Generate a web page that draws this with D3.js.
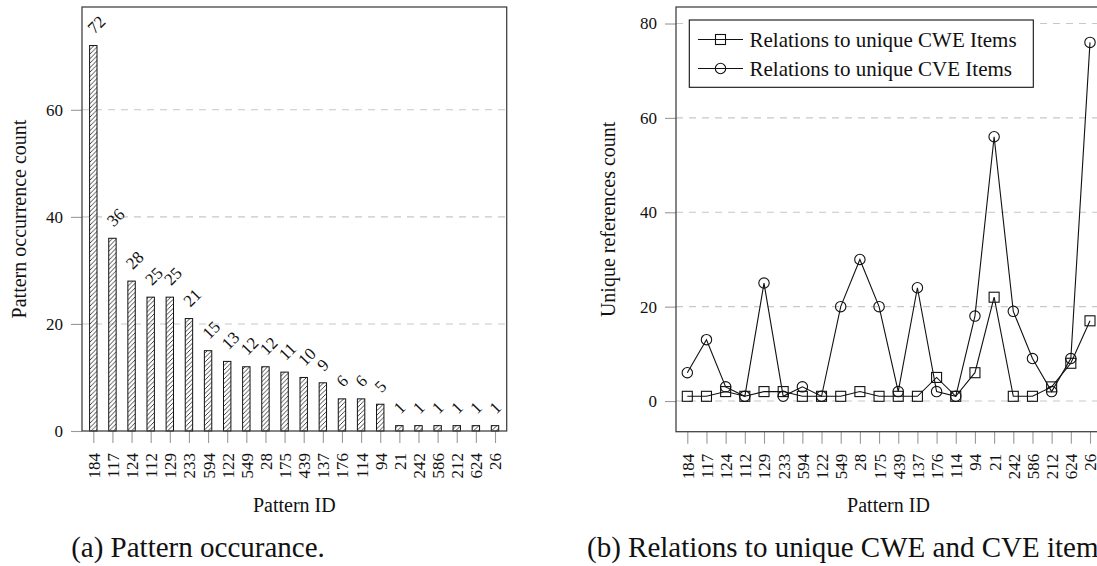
<!DOCTYPE html>
<html>
<head>
<meta charset="utf-8">
<script src="https://cdn.jsdelivr.net/npm/d3@7"></script>
<style>
  body { margin: 0; background: #fff; }
  svg text { font-family: "Liberation Serif", "Times New Roman", Tinos, "Nimbus Roman", "Nimbus Roman No9 L", "Noto Serif", "DejaVu Serif", FreeSerif, serif; fill: #111; }
</style>
</head>
<body>
<svg id="chart" width="1097" height="566"></svg>
<script>
// pattern ids, same order in both panels
var patternIds = ["184","117","124","112","129","233","594","122","549","28","175","439","137","176","114","94","21","242","586","212","624","26"];
// (a) occurrence count per pattern
var occurrence = [72,36,28,25,25,21,15,13,12,12,11,10,9,6,6,5,1,1,1,1,1,1];
// (b) unique references
var cweRefs = [1,1,2,1,2,2,1,1,1,2,1,1,1,5,1,6,22,1,1,3,8,17];
var cveRefs = [6,13,3,1,25,1,3,1,20,30,20,2,24,2,1,18,56,19,9,2,9,76];
var ticksA = [0,20,40,60];
var ticksB = [0,20,40,60,80];
var legendNames = ["Relations to unique CWE Items","Relations to unique CVE Items"];

var svg = d3.select("#chart");

// hatch pattern for the bars
var defs = svg.append("defs");
defs.append("pattern")
  .attr("id","hatch")
  .attr("patternUnits","userSpaceOnUse")
  .attr("width",4.5).attr("height",4.5)
  .append("path")
  .attr("d","M-1,5.5 L5.5,-1 M-1,1 L1,-1 M3.5,5.5 L5.5,3.5")
  .attr("stroke","#111").attr("stroke-width",0.8);

function frame(g, x0, x1, y0, y1){
  g.append("rect")
    .attr("x",x0).attr("y",y0)
    .attr("width",x1-x0).attr("height",y1-y0)
    .attr("fill","none").attr("stroke","#444").attr("stroke-width",1.3);
}

function grid(g, yScale, ticks, x0, x1){
  g.selectAll("line.grid")
    .data(ticks)
    .enter().append("line")
    .attr("class","grid")
    .attr("x1",x0).attr("x2",x1)
    .attr("y1",function(d){return yScale(d);})
    .attr("y2",function(d){return yScale(d);})
    .attr("stroke","#c8c8c8").attr("stroke-width",1.1)
    .attr("stroke-dasharray","7,6");
}

function yAxis(g, yScale, ticks, x0){
  var ax = g.append("g")
    .attr("transform","translate("+x0+",0)")
    .call(d3.axisLeft(yScale).tickValues(ticks).tickSize(11).tickPadding(8));
  ax.attr("font-family",null);
  ax.select(".domain").remove();
  ax.selectAll(".tick line").attr("stroke","#999").attr("stroke-width",1.1);
  ax.selectAll("text").style("font-size","17px").attr("fill","#111");
}

function xAxis(g, xScale, y0){
  var ax = g.append("g")
    .attr("transform","translate(0,"+y0+")")
    .call(d3.axisBottom(xScale).tickSize(12));
  ax.attr("font-family",null);
  ax.select(".domain").remove();
  ax.selectAll(".tick line").attr("stroke","#999").attr("stroke-width",1.1);
  ax.selectAll("text")
    .style("font-size","17px").attr("fill","#111")
    .attr("transform","rotate(-90)")
    .attr("x",-22).attr("y",0).attr("dy","0.35em")
    .attr("text-anchor","end");
}

// ---------- (a) bar chart ----------
var A = {x0:82, x1:506.7, y0:7, y1:431};
var xA = d3.scalePoint().domain(patternIds).range([93.3,495]);
var yA = d3.scaleLinear().domain([0,79.2]).range([A.y1,A.y0]);
var gA = svg.append("g");

grid(gA, yA, ticksA.filter(function(d){return d>0;}), A.x0, A.x1);
yAxis(gA, yA, ticksA, A.x0);
xAxis(gA, xA, A.y1);

var barW = 7.4;
gA.selectAll("rect.bar")
  .data(occurrence)
  .enter().append("rect")
  .attr("class","bar")
  .attr("x",function(d,i){return xA(patternIds[i])-barW/2;})
  .attr("y",function(d){return yA(d);})
  .attr("width",barW)
  .attr("height",function(d){return yA(0)-yA(d);})
  .attr("fill","url(#hatch)")
  .attr("stroke","#111").attr("stroke-width",1);

gA.selectAll("text.val")
  .data(occurrence)
  .enter().append("text")
  .attr("class","val")
  .attr("transform",function(d,i){
    return "translate("+(xA(patternIds[i])-3)+","+(yA(d)-15)+") rotate(-45)";
  })
  .attr("dy","0.35em")
  .style("font-size","17px")
  .text(function(d){return d;});

frame(gA, A.x0, A.x1, A.y0, A.y1);

gA.append("text")
  .attr("transform","translate(26,"+((A.y0+A.y1)/2)+") rotate(-90)")
  .attr("text-anchor","middle")
  .style("font-size","20px")
  .text("Pattern occurrence count");

gA.append("text")
  .attr("x",(A.x0+A.x1)/2).attr("y",512)
  .attr("text-anchor","middle")
  .style("font-size","20px")
  .text("Pattern ID");

svg.append("text")
  .attr("x",198).attr("y",557)
  .attr("text-anchor","middle")
  .style("font-size","29px")
  .text("(a) Pattern occurance.");

// ---------- (b) line chart ----------
var B = {x0:676, x1:1101, y0:7, y1:431.7};
var xB = d3.scalePoint().domain(patternIds).range([687.3,1090]);
var yB = d3.scaleLinear().domain([-6.5,83.5]).range([B.y1,B.y0]);
var gB = svg.append("g");

grid(gB, yB, ticksB, B.x0, B.x1);
yAxis(gB, yB, ticksB, B.x0);
xAxis(gB, xB, B.y1);

var line = d3.line()
  .x(function(d,i){return xB(patternIds[i]);})
  .y(function(d){return yB(d);});

gB.append("path").datum(cweRefs)
  .attr("d",line).attr("fill","none").attr("stroke","#111").attr("stroke-width",1.1);
gB.selectAll("rect.sq")
  .data(cweRefs)
  .enter().append("rect")
  .attr("class","sq")
  .attr("x",function(d,i){return xB(patternIds[i])-5;})
  .attr("y",function(d){return yB(d)-5;})
  .attr("width",10).attr("height",10)
  .attr("fill","none").attr("stroke","#111").attr("stroke-width",1.1);

gB.append("path").datum(cveRefs)
  .attr("d",line).attr("fill","none").attr("stroke","#111").attr("stroke-width",1.1);
gB.selectAll("circle.ci")
  .data(cveRefs)
  .enter().append("circle")
  .attr("class","ci")
  .attr("cx",function(d,i){return xB(patternIds[i]);})
  .attr("cy",function(d){return yB(d);})
  .attr("r",5.2)
  .attr("fill","none").attr("stroke","#111").attr("stroke-width",1.1);

// legend
var leg = gB.append("g");
leg.append("rect")
  .attr("x",689.3).attr("y",20).attr("width",344).attr("height",67.3)
  .attr("fill","#fff").attr("stroke","#111").attr("stroke-width",1.1);
legendNames.forEach(function(name,i){
  var cy = 39.5 + i*29;
  leg.append("line").attr("x1",698).attr("x2",743).attr("y1",cy).attr("y2",cy)
    .attr("stroke","#111").attr("stroke-width",1.1);
  if(i===0){
    leg.append("rect").attr("x",715.5).attr("y",cy-5).attr("width",10).attr("height",10)
      .attr("fill","none").attr("stroke","#111").attr("stroke-width",1.1);
  } else {
    leg.append("circle").attr("cx",720.5).attr("cy",cy).attr("r",5.2)
      .attr("fill","none").attr("stroke","#111").attr("stroke-width",1.1);
  }
  leg.append("text").attr("x",749.5).attr("y",cy).attr("dy","0.35em")
    .style("font-size","21px").text(name);
});

frame(gB, B.x0, B.x1, B.y0, B.y1);

gB.append("text")
  .attr("transform","translate(615,"+((B.y0+B.y1)/2)+") rotate(-90)")
  .attr("text-anchor","middle")
  .style("font-size","20px")
  .text("Unique references count");

gB.append("text")
  .attr("x",(B.x0+B.x1)/2).attr("y",512)
  .attr("text-anchor","middle")
  .style("font-size","20px")
  .text("Pattern ID");

// caption runs past the right edge, as in the reference
svg.append("text")
  .attr("x",587).attr("y",557)
  .style("font-size","29px")
  .text("(b) Relations to unique CWE and CVE items.");
</script>
</body>
</html>
